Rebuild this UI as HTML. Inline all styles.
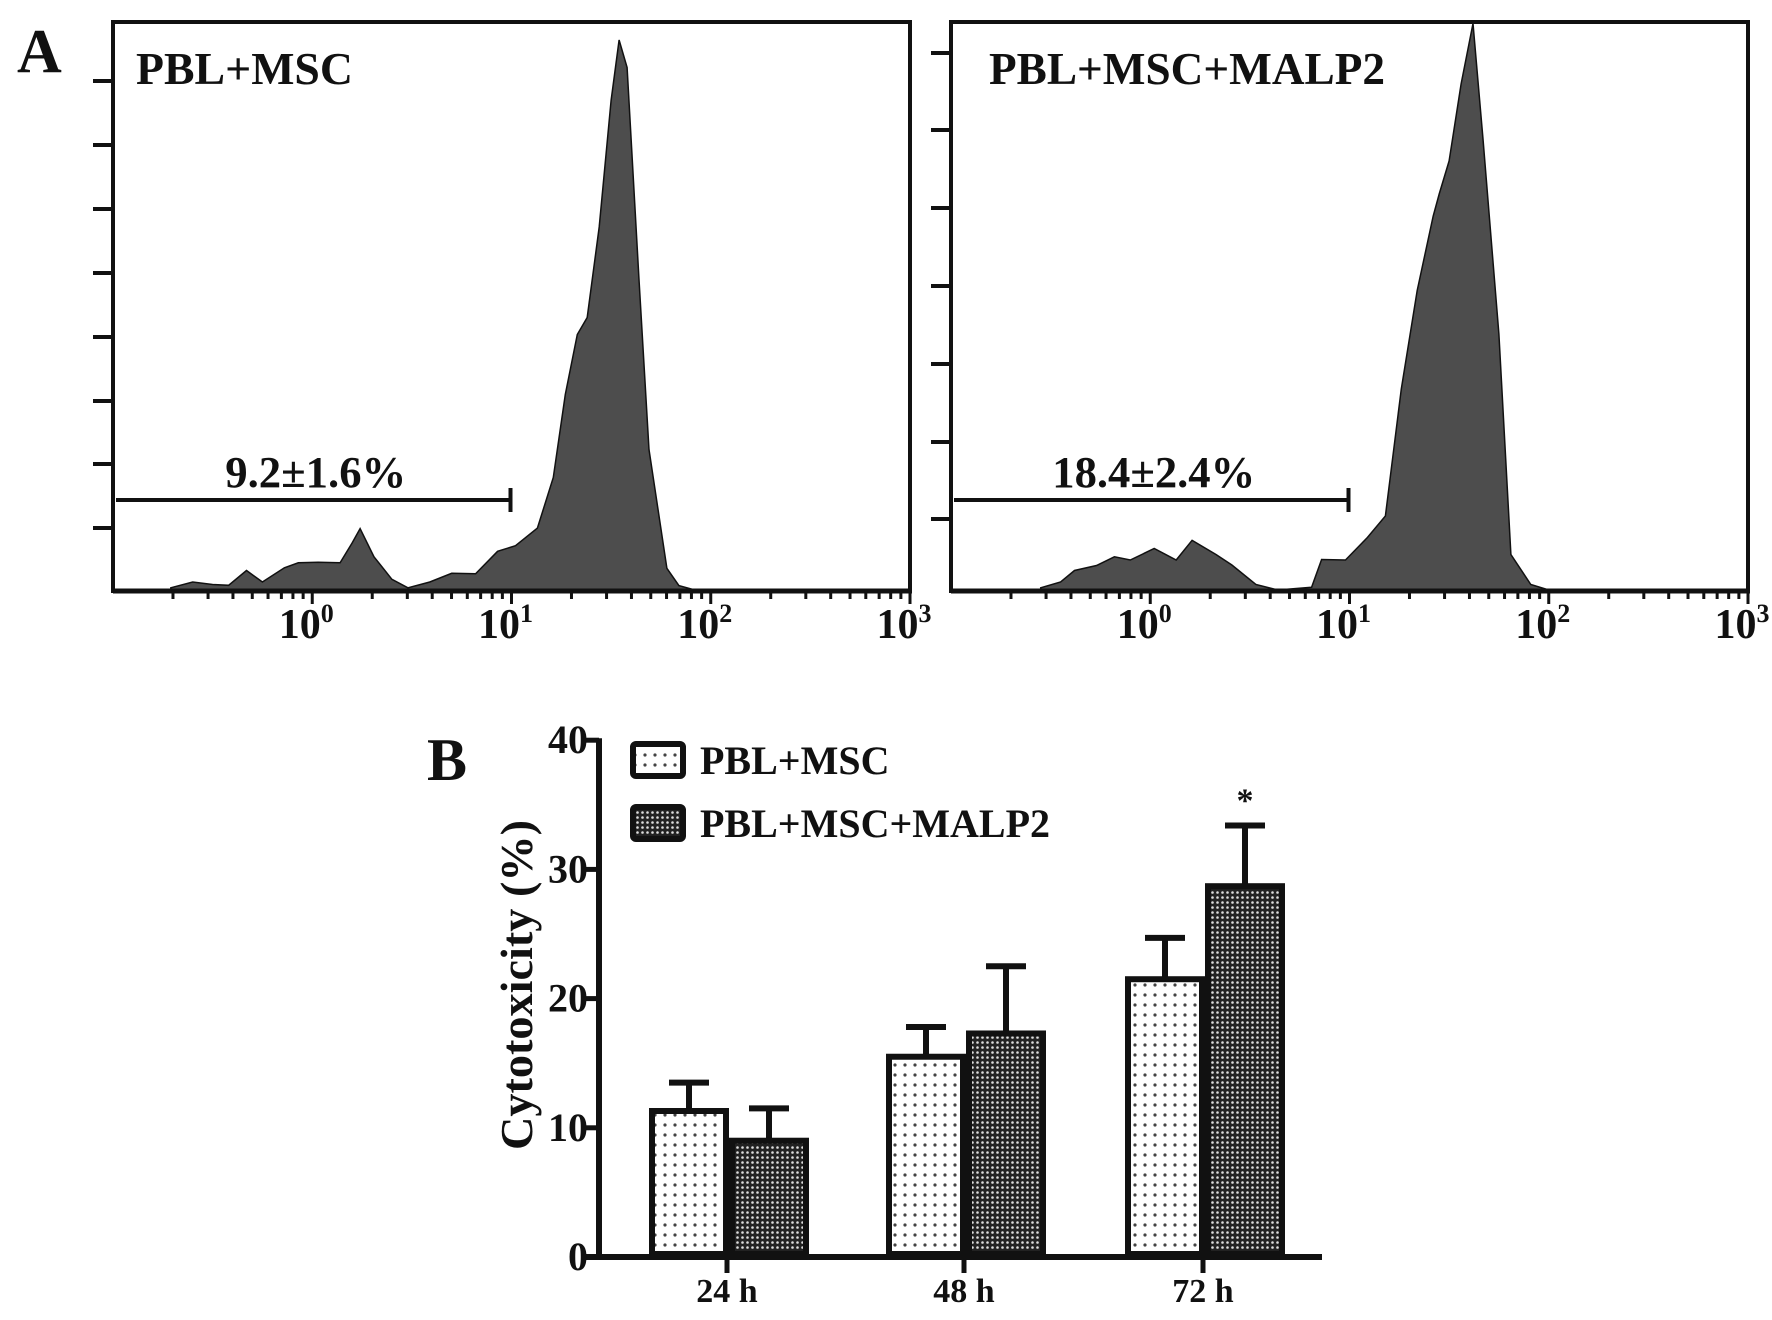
<!DOCTYPE html>
<html><head><meta charset="utf-8"><style>
html,body{margin:0;padding:0;background:#fff}
svg{display:block}
text{font-family:"Liberation Serif",serif;font-weight:bold;fill:#111}
</style></head><body>
<svg id="fig" width="1772" height="1320" viewBox="0 0 1772 1320" xmlns="http://www.w3.org/2000/svg">
<defs>
<pattern id="dots" width="10" height="10" patternUnits="userSpaceOnUse"><rect width="10" height="10" fill="#fff"/><circle cx="5" cy="5" r="1.6" fill="#444"/></pattern>
<pattern id="check" width="5" height="5" patternUnits="userSpaceOnUse"><rect width="5" height="5" fill="#222"/><circle cx="2.5" cy="2.5" r="1.3" fill="#ddd"/></pattern>
</defs>
<text x="17" y="72" font-size="62">A</text>
<text x="427" y="780" font-size="60">B</text>
<g id="hists"></g>
<g id="bars"></g>
</svg>
<script>
// ---- Panel A histogram data (log10 intensity, relative count) ----
const leftLogX=[-0.71,-0.6,-0.5,-0.42,-0.33,-0.25,-0.14,-0.07,0.03,0.14,0.2,0.24,0.31,0.4,0.48,0.59,0.7,0.82,0.93,1.02,1.13,1.21,1.27,1.33,1.38,1.44,1.5,1.54,1.58,1.64,1.69,1.78,1.84,1.92];
const leftCounts=[0.4,2,1,1.4,3,2,3.5,5.5,4.5,5.5,8,11.7,5.5,2.5,0.4,2,2.5,3.5,6.5,8.6,10.7,21,35,47,49,66,89,100,95,57,25,4.5,0.8,0];
const rightLogX=[-0.55,-0.45,-0.38,-0.27,-0.18,-0.1,0.02,0.13,0.21,0.33,0.41,0.53,0.64,0.81,0.86,0.98,1.09,1.18,1.26,1.34,1.42,1.45,1.5,1.56,1.62,1.67,1.75,1.81,1.91,2.0];
const rightCounts=[0.4,2,3,5,5.5,6,7,6,8.5,7,4,1,0,0.5,5,6,9,14,36,55,68,72,78,92,103,82,46,7,1,0];
const decadeLabels=["0","1","2","3"];

// ---- Panel B bar data ----
const categories=["24 h","48 h","72 h"];
const seriesNames=["PBL+MSC","PBL+MSC+MALP2"];
const msc=[11.3,15.5,21.5];
const mscErr=[2.2,2.3,3.2];
const malp=[9.0,17.3,28.7];
const malpErr=[2.5,5.2,4.7];
const yTicks=[0,10,20,30,40];
const sig=[false,false,true];

const NS="http://www.w3.org/2000/svg";
function mk(tag,attrs,parent,txt){const e=document.createElementNS(NS,tag);for(const k in attrs)e.setAttribute(k,attrs[k]);if(txt!==undefined)e.textContent=txt;parent.appendChild(e);return e;}

const H=document.getElementById('hists');
const panels=[{x0:113,logX:leftLogX,cnt:leftCounts,title:"PBL+MSC",tx:136,tl:217,gate:"9.2±1.6%",gl:181,yt:[81,145,209,273,337,401,464,528],name:'left'},
              {x0:951,logX:rightLogX,cnt:rightCounts,title:"PBL+MSC+MALP2",tx:989,tl:396,gate:"18.4±2.4%",gl:203,yt:[53,130,208,286,364,442,519],name:'right'}];
panels.forEach(p=>{
  const dec=199.25, base=590, top=22;
  const xs=l=>p.x0+(l+1)*dec;
  const ys=c=>base-c*5.5;
  const g=mk('g',{},H);
  
  
  let d='M'+xs(p.logX[0])+','+base;
  for(let i=0;i<p.logX.length;i++){
    const x=xs(p.logX[i]);
    const jag=(i%2?3:-3)*(p.cnt[i]>1&&p.cnt[i]<60?1:0);
    d+=' L'+x.toFixed(1)+','+(ys(p.cnt[i])+jag).toFixed(1);
  }
  d+=' L'+xs(p.logX[p.logX.length-1])+','+base+' Z';
  const path=mk('path',{d:d,fill:'#4d4d4d',stroke:'#111','stroke-width':1.5},g);
  
  
  const fr=mk('path',{d:`M${p.x0},${base+3} L${p.x0},${top} L${p.x0+797},${top} L${p.x0+797},${base+3}`,fill:'none',stroke:'#111','stroke-width':4},g);
  
  
  const xa=mk('line',{x1:p.x0,y1:base+1,x2:p.x0+799,y2:base+1,stroke:'#111','stroke-width':5},g);
  
  
  for(let dd=-1;dd<3;dd++){for(let m=1;m<10;m++){
    const x=xs(dd+Math.log10(m)); if(x<p.x0+30)continue;
    mk('line',{x1:x,y1:base,x2:x,y2:base+(m===1?14:9),stroke:'#111','stroke-width':3},g);
  }}
  mk('line',{x1:xs(3),y1:base,x2:xs(3),y2:base+14,stroke:'#111','stroke-width':3},g);
  decadeLabels.forEach((lb,i)=>{
    const t=mk('text',{x:xs(i)-6,y:638,'font-size':42,'text-anchor':'middle'},g);
    
    
    mk('tspan',{},t,'10');mk('tspan',{dy:-16,'font-size':26},t,lb);
  });
  p.yt.forEach(y=>mk('line',{x1:p.x0-20,y1:y,x2:p.x0,y2:y,stroke:'#111','stroke-width':4},g));
  const tt=mk('text',{x:p.tx,y:84,'font-size':46,textLength:p.tl,lengthAdjust:'spacingAndGlyphs'},g,p.title);
  
  
  const gx2=xs(1)-1;
  const gl=mk('path',{d:`M${p.x0+3},500 L${gx2},500 M${gx2},488 L${gx2},512`,stroke:'#111','stroke-width':4,fill:'none'},g);
  
  
  const gt=mk('text',{x:(p.x0+gx2)/2+4,y:487,'font-size':44,'text-anchor':'middle',textLength:p.gl,lengthAdjust:'spacingAndGlyphs'},g,p.gate);
  
  
});

// ---- Panel B ----
const B=document.getElementById('bars');
const ax=599, y0=1257, pxPer=129.2/10;
const yS=v=>y0-v*pxPer;
const centers=[727,964,1203], bw=80;
const ya=mk('line',{x1:ax,y1:yS(40)-2,x2:ax,y2:y0+3,stroke:'#111','stroke-width':6},B);


const xa=mk('line',{x1:585,y1:y0,x2:1322,y2:y0,stroke:'#111','stroke-width':6},B);


yTicks.forEach(v=>{
  mk('line',{x1:586,y1:yS(v),x2:ax,y2:yS(v),stroke:'#111','stroke-width':5},B);
  const t=mk('text',{x:588,y:yS(v)+13,'font-size':40,'text-anchor':'end'},B,String(v));
  
  
});
const yl=mk('text',{x:0,y:0,'font-size':46,'text-anchor':'middle',transform:'translate(532,985) rotate(-90)',textLength:330,lengthAdjust:'spacingAndGlyphs'},B,'Cytotoxicity (%)');


categories.forEach((c,i)=>{
  const cx=centers[i];
  mk('line',{x1:cx,y1:y0,x2:cx,y2:y0+16,stroke:'#111','stroke-width':5},B);
  const t=mk('text',{x:cx,y:1302,'font-size':34,'text-anchor':'middle'},B,c);
  
  
  [[msc,mscErr,'url(#dots)',cx-bw+2,'msc'],[malp,malpErr,'url(#check)',cx+2,'malp2']].forEach(s=>{
    const v=s[0][i], e=s[1][i], x=s[3];
    const bx=x+3, bwid=bw-6;
    const ex=x+bw/2;
    const el=mk('path',{d:`M${ex},${yS(v)} L${ex},${yS(v+e)} M${ex-20},${yS(v+e)} L${ex+20},${yS(v+e)}`,stroke:'#111','stroke-width':6,fill:'none'},B);
    
    
    const r=mk('rect',{x:bx,y:yS(v),width:bwid,height:y0-yS(v)-3,fill:s[2],stroke:'#111','stroke-width':6},B);
    
    
  });
  if(sig[i]){
    const st=mk('text',{x:cx+bw/2+2,y:yS(malp[i]+malpErr[i])-14,'font-size':34,'text-anchor':'middle'},B,'*');
    
    
  }
});
const lg=mk('g',{},B);


[['url(#dots)',742],['url(#check)',805]].forEach((s,i)=>{
  const r=mk('rect',{x:633,y:s[1]+2,width:50,height:32,fill:s[0],stroke:'#111','stroke-width':6,rx:3},lg);
  
  
  const t=mk('text',{x:700,y:s[1]+32,'font-size':40},lg,seriesNames[i]);
  
  
});
</script>
</body></html>
